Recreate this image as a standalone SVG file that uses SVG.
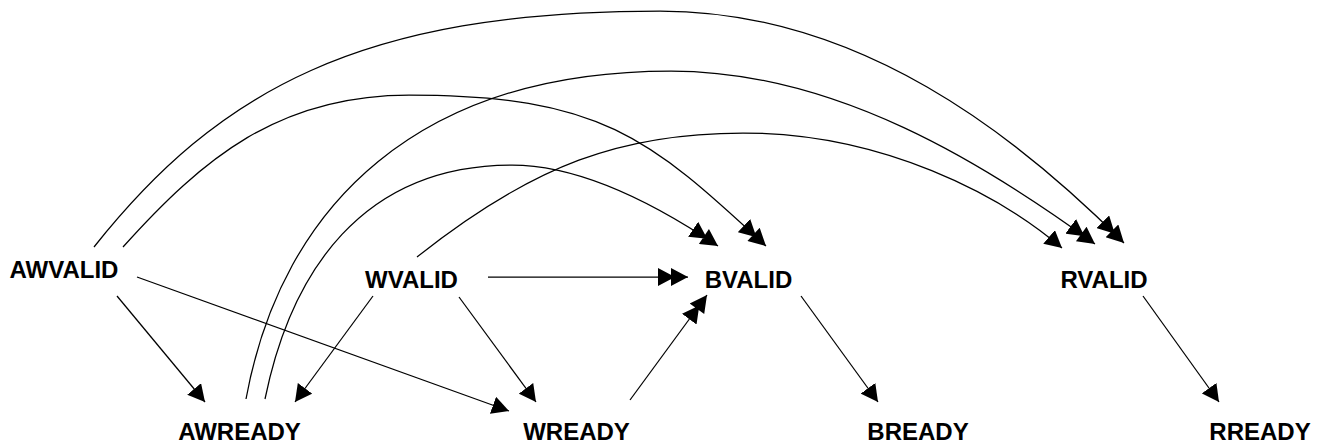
<svg xmlns="http://www.w3.org/2000/svg" width="1324" height="443" viewBox="0 0 1324 443">
<style>
text{font-family:"Liberation Sans",Arial,sans-serif;font-weight:bold;font-size:24px;fill:#000;text-anchor:middle}
.e{fill:none;stroke:#000;stroke-width:1.25}
.s{marker-end:url(#a1)}
.d{marker-end:url(#a2)}
</style>
<defs>
<marker id="a1" markerUnits="userSpaceOnUse" markerWidth="17" markerHeight="18" viewBox="0 0 17 18" refX="17" refY="9" orient="auto"><path d="M0,0 L17,9 L0,18 z" fill="#000"/></marker>
<marker id="a2" markerUnits="userSpaceOnUse" markerWidth="30" markerHeight="18" viewBox="0 0 30 18" refX="30" refY="9" orient="auto"><path d="M0,0 L17,9 L0,18 z M13,0 L30,9 L13,18 z" fill="#000"/></marker>
</defs>
<rect width="1324" height="443" fill="#fff"/>
<g id="connectors">
<path class="e d" d="M94,247 C218,91 360,11 660,11 C860,11 1017.5,136.5 1124,243"/>
<path class="e d" d="M123,247 C203,158 279,95 409,95 C599,95 649,137 766,246"/>
<path class="e d" d="M246,399 C282,203 421,71 671,71 C836,71 985.6,164.4 1095,244"/>
<path class="e d" d="M265,399 C291,272 362,165 512,165 C582,165 659.9,206.8 718,246"/>
<path class="e s" d="M417,257 C534,164 623,133 743,133 C883,133 1000,195 1062,248"/>
<path class="e s" d="M117,296 L205,402"/>
<path class="e s" d="M137,277 L509,411"/>
<path class="e s" d="M373,296 L295,402"/>
<path class="e d" d="M488,277 L688,277"/>
<path class="e s" d="M459,297 L536,402"/>
<path class="e d" d="M630,400 L707,295"/>
<path class="e s" d="M801,296 L878,402"/>
<path class="e s" d="M1143,296 L1219,402"/>
</g>
<g id="AWVALID"><text x="64" y="278">AWVALID</text></g>
<g id="WVALID"><text x="411.5" y="288">WVALID</text></g>
<g id="BVALID"><text x="748.5" y="288">BVALID</text></g>
<g id="RVALID"><text x="1104" y="288">RVALID</text></g>
<g id="AWREADY"><text x="239.5" y="439.5">AWREADY</text></g>
<g id="WREADY"><text x="576.5" y="439.5">WREADY</text></g>
<g id="BREADY"><text x="918" y="439.5">BREADY</text></g>
<g id="RREADY"><text x="1260" y="439.5">RREADY</text></g>
</svg>
